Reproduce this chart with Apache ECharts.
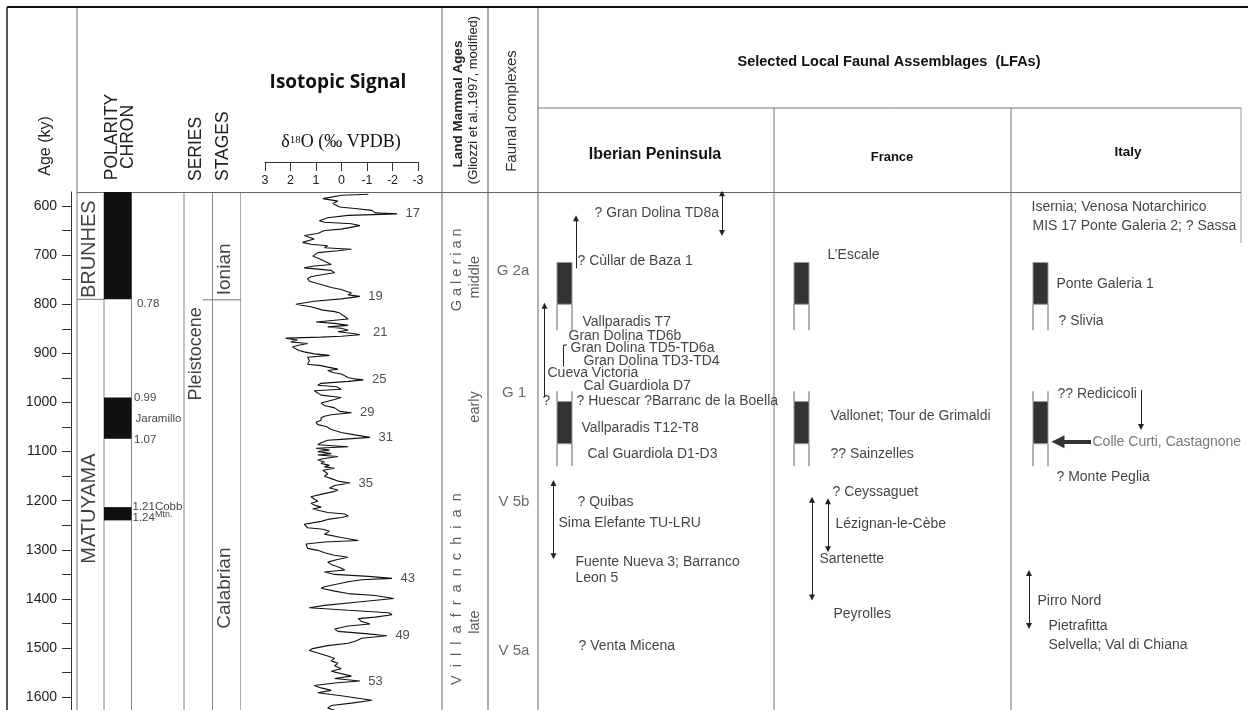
<!DOCTYPE html>
<html><head><meta charset="utf-8">
<script src="https://cdn.jsdelivr.net/npm/echarts@6/dist/echarts.min.js"></script>
<style>html,body{margin:0;padding:0;background:#fff}#c{width:1248px;height:710px}</style>
</head><body><div id="c"></div>
<script>
// ---------- DATA ----------
const AGE_MIN = 571.5, AGE_MAX = 1626;
const ageLabels = [600,700,800,900,1000,1100,1200,1300,1400,1500,1600];
const ageTicks = [600,650,700,750,800,850,900,950,1000,1050,1100,1150,1200,1250,1300,1350,1400,1450,1500,1550,1600];
const isoTicks = [3,2,1,0,-1,-2,-3];

// benthic d18O curve (age ky, permil VPDB)
const isoAge = [
 576,578,585,590,595,602,605,609,614,616,
 619,624,630,633,636,640,647,650,656,660,
 667,674,678,681,685,688,691,695,702,709,
 712,719,722,726,731,736,739,744,748,753,
 757,760,766,770,777,781,784,789,794,800,
 805,812,815,818,822,825,830,836,839,843,
 846,849,853,856,860,862,865,867,869,873,
 877,880,884,887,891,894,897,901,904,908,
 911,915,922,925,928,932,935,939,942,946,
 949,952,954,957,961,965,968,973,976,980,
 985,990,994,1001,1006,1011,1014,1018,1021,1025,
 1028,1031,1036,1040,1045,1049,1055,1061,1066,1071,
 1075,1077,1082,1086,1090,1093,1097,1100,1104,1107,
 1110,1114,1117,1121,1124,1128,1131,1134,1138,1145,
 1150,1155,1160,1164,1169,1174,1178,1181,1186,1192,
 1196,1201,1205,1210,1213,1217,1224,1227,1231,1234,
 1238,1242,1248,1251,1255,1258,1262,1265,1268,1275,
 1281,1284,1288,1292,1297,1301,1306,1311,1315,1320,
 1325,1330,1336,1341,1345,1350,1354,1358,1361,1365,
 1368,1375,1378,1384,1389,1393,1399,1406,1413,1418,
 1423,1428,1432,1437,1440,1446,1451,1455,1461,1466,
 1471,1475,1480,1485,1490,1495,1501,1505,1510,1516,
 1521,1526,1531,1536,1542,1547,1552,1557,1562,1567,
 1571,1576,1581,1586,1591,1597,1601,1606,1612,1617,
 1622,1629];
const isoD18O = [
 -1.05,0.00,0.73,0.14,0.34,0.07,-0.52,-1.19,-1.32,-2.18,
 -0.26,0.54,0.87,0.67,-0.39,-0.72,0.01,0.67,0.93,1.46,
 1.07,1.53,1.20,0.54,0.67,-0.39,0.14,0.93,1.13,0.80,
 0.87,0.40,1.07,1.46,0.40,0.27,0.67,1.20,1.33,1.26,
 1.33,0.80,0.40,0.01,-0.39,-0.26,-0.72,0.01,1.07,1.79,
 1.20,0.73,0.27,0.07,0.01,-0.13,-0.26,1.00,0.27,-0.26,
 0.54,0.01,-0.26,0.14,-0.52,-0.72,0.01,0.80,2.19,1.73,
 1.99,1.33,1.73,1.93,1.86,1.66,1.46,1.07,0.47,1.33,
 1.39,1.26,1.33,0.80,0.54,0.14,0.54,0.34,0.01,0.07,
 -0.26,-0.52,-0.86,-0.26,0.80,0.93,0.20,0.01,1.07,1.13,
 0.80,0.01,0.27,0.80,0.67,0.27,0.34,0.07,-0.39,0.40,
 0.67,0.80,0.80,1.00,0.93,0.60,0.40,0.01,-0.52,-1.12,
 0.01,0.54,0.80,0.93,-0.26,1.00,0.47,0.93,0.40,0.93,
 0.14,0.67,0.93,0.67,0.80,0.47,0.67,0.27,0.73,0.54,
 0.67,0.40,0.14,-0.33,0.27,0.47,0.14,0.27,0.73,1.20,
 1.26,0.93,1.20,1.00,0.80,1.13,0.54,-0.13,-0.26,0.01,
 0.54,0.80,1.46,1.53,1.33,0.73,0.47,0.40,0.67,0.01,
 -0.66,0.67,1.39,1.46,1.33,0.93,0.67,0.27,-0.26,0.20,
 0.54,0.40,0.07,-0.13,0.67,0.27,-1.05,-1.98,-0.79,-0.26,
 -0.26,0.67,0.80,0.27,-0.26,-1.32,-2.05,-0.66,0.67,1.26,
 -0.26,-1.85,-1.98,-1.32,-0.66,-0.79,-1.12,-0.26,0.27,0.14,
 -1.05,-1.78,-0.79,-0.59,-0.26,0.54,1.13,1.26,0.93,0.54,
 0.27,0.40,0.14,0.27,0.01,0.40,0.01,-0.39,0.27,-0.72,
 0.27,1.07,0.80,0.40,0.93,0.01,-0.52,-1.19,-0.39,0.40,
 0.54,0.14];

// marine isotope stages labelled at peaks
const misLabels = ['17','19','21','25','29','31','35','43','49','53'];
const misAge    = [616,784,858,954,1021,1071,1164,1358,1475,1567];
const misPeak   = [-2.18,-0.72,-0.90,-0.86,-0.39,-1.12,-0.33,-1.98,-1.78,-0.72];

// polarity
const normalPolarity = [[0,790],[990,1074],[1213,1240]];
const chronNames = ['BRUNHES','MATUYAMA'];
const chronLabelAge = [688,1216];
const chronBoundary = [790];
const polLabels = ['0.78','0.99','Jaramillo','1.07','1.21Cobb','1.24Mtn.'];
const polLabelAge = [800,990,1033,1076,1213,1234];

// series & stages
const seriesNames = ['Pleistocene'];
const seriesLabelAge = [901];
const stageNames = ['Ionian','Calabrian'];
const stageLabelAge = [729,1378];
const stageBoundary = [791];

// Land mammal ages & faunal complexes
const lmaNames = ['G a l e r i a n','middle','early','V  i  l  l  a  f  r  a  n  c  h  i  a  n','late'];
const lmaLabelAge = [730,745,1009,1380,1447];
const fcNames = ['G 2a','G 1','V 5b','V 5a'];
const fcLabelAge = [733,980,1203,1506];

// Local faunal assemblages
const iberianSites = ['? Gran Dolina TD8a','? Cùllar de Baza 1','Vallparadis T7','Gran Dolina TD6b','Gran Dolina TD5-TD6a','Gran Dolina TD3-TD4','Cueva Victoria','Cal Guardiola D7','?','? Huescar ?Barranc de la Boella','Vallparadis T12-T8','Cal Guardiola D1-D3','? Quibas','Sima Elefante TU-LRU','Fuente Nueva 3; Barranco','Leon 5','? Venta Micena'];
const iberianAges = [615,712,836,864,889,916,941,967,998,998,1052,1105,1202,1245,1326,1357,1496];
const franceSites = ['L’Escale','Vallonet; Tour de Grimaldi','?? Sainzelles','? Ceyssaguet','Lézignan-le-Cèbe','Sartenette','Peyrolles'];
const franceAges = [700,1028,1105,1183,1248,1318,1431];
const italySites = ['Isernia; Venosa Notarchirico','MIS 17 Ponte Galeria 2; ? Sassa','Ponte Galeria 1','? Slivia','?? Redicicoli','Colle Curti, Castagnone','? Monte Peglia','Pirro Nord','Pietrafitta','Selvella; Val di Chiana'];
const italyAges = [603,642,759,835,982,1080,1151,1405,1455,1494];

// age ranges (arrows) [from, to]
const iberianRangesBoth = [[574,655],[1164,1313]];
const iberianRangesUp = [[727,625],[988,803]];
const iberianRangeHook = [883,927];
const franceRangesBoth = [[1198,1397],[1201,1299]];
const italyRangesDown = [[974,1050]];
const italyRangesBoth = [[1347,1455]];
const italyPointerAge = [1080];

// site polarity boxes
const lfaNormal = [[715,800],[998,1084]];
const lfaReversed = [[800,853],[977,998],[1084,1130]];

// ---------- LAYOUT (px) ----------
const SANS = '"Liberation Sans", Arial, Helvetica, sans-serif';
const SERIF = '"Liberation Serif", "Times New Roman", serif';
const gridBoxes = [[71,1],[77,27],[104,27.5],[131.5,52.5],[184,28.5],[212.5,28],[265,153],[265,153],[442,46],[488,50],[538,236],[774,237],[1011,230]];
const iberianIndent = [56,39,44,30,32,45,9,45,4,38,43,49,39,20,37,37,40];
const franceIndent = [53,56,56,58,61,45,59];
const italyIndent = [20,21,45,47,46,81,45,26,37,37];
const polLabelIndent = [5,2,3.5,2,0.5,0.5];

const grids = gridBoxes.map((b,i)=>({left:b[0], width:b[1], top: i===7?150:192, height: i===7?12:518}));
const xAxes = gridBoxes.map((b,i)=>{
  if (i===6) return {gridIndex:i,type:'value',min:-3,max:3,inverse:true,show:false};
  if (i===7) return {gridIndex:i,type:'value',min:-3,max:3,interval:1,inverse:true,position:'bottom',
    axisLine:{show:true,lineStyle:{color:'#333',width:1}},
    axisTick:{show:true,length:9,lineStyle:{color:'#333'}},
    axisLabel:{show:true,fontSize:12.5,color:'#222',margin:12,fontFamily:SANS,formatter:v=>String(v)},
    splitLine:{show:false}};
  return {gridIndex:i,type:'value',min:0,max:b[1],show:false};
});
const yAxes = gridBoxes.map((b,i)=>{
  if (i===7) return {gridIndex:i,type:'value',min:0,max:1,show:false};
  const ax = {gridIndex:i,type:'value',min:AGE_MIN,max:AGE_MAX,inverse:true,show:i===0,splitLine:{show:false}};
  if (i===0) {
    ax.axisLine = {show:true,lineStyle:{color:'#333',width:1}};
    ax.axisTick = {show:true,length:9,customValues:ageTicks,lineStyle:{color:'#333'}};
    ax.axisLabel = {show:true,customValues:ageLabels,fontSize:14,color:'#222',margin:14,fontFamily:SANS,formatter:v=>String(v)};
  }
  return ax;
});

function textSeries(g, names, ages, xs, o) {
  o = o || {};
  return {
    type:'scatter', xAxisIndex:g, yAxisIndex:g, silent:true, symbolSize:1,
    itemStyle:{color:'rgba(0,0,0,0)'}, z:5, animation:false,
    data: names.map((n,i)=>{
      const d = {name:n, value:[xs[i], ages[i]]};
      if (o.itemLabel && o.itemLabel[i]) d.label = o.itemLabel[i];
      return d;
    }),
    label:{show:true, formatter:'{b}', position:o.position||'right', distance:0,
      fontSize:o.fontSize||14, fontFamily:o.fontFamily||SANS, color:o.color||'#111',
      rotate:o.rotate||0, fontWeight:o.fontWeight||'normal'}
  };
}
function rectSeries(g, x0, x1, data, style, clip) {
  return {type:'custom', xAxisIndex:g, yAxisIndex:g, silent:true, clip:!!clip, data, z:3,
    renderItem:(p, api)=>{
      const a = api.coord([x0, api.value(0)]), b = api.coord([x1, api.value(1)]);
      return {type:'rect', shape:{x:a[0], y:a[1], width:b[0]-a[0], height:b[1]-a[1]}, style};
    }};
}
function openBoxSeries(g, x0, x1, data) {
  return {type:'custom', xAxisIndex:g, yAxisIndex:g, silent:true, data, z:3,
    renderItem:(p, api)=>{
      const a = api.coord([x0, api.value(0)]), b = api.coord([x1, api.value(1)]);
      const st = {stroke:'#999', lineWidth:1.5};
      return {type:'group', children:[
        {type:'line', shape:{x1:a[0],y1:a[1],x2:a[0],y2:b[1]}, style:st},
        {type:'line', shape:{x1:b[0],y1:a[1],x2:b[0],y2:b[1]}, style:st}]};
    }};
}
function hLineSeries(g, x0, x1, ages, color) {
  return {type:'custom', xAxisIndex:g, yAxisIndex:g, silent:true, data:ages.map(a=>[a]), z:3,
    renderItem:(p, api)=>{
      const a = api.coord([x0, api.value(0)]), b = api.coord([x1, api.value(0)]);
      return {type:'line', shape:{x1:a[0],y1:a[1],x2:b[0],y2:b[1]}, style:{stroke:color||'#777', lineWidth:1}};
    }};
}
function arrowSeries(g, xs, ranges, both, extra) {
  return Object.assign({type:'lines', coordinateSystem:'cartesian2d', xAxisIndex:g, yAxisIndex:g, silent:true,
    symbol: both ? ['triangle','triangle'] : ['none','triangle'], symbolSize: 6,
    lineStyle:{color:'#222', width:1, opacity:1}, z:4,
    data: ranges.map((r,i)=>({coords:[[xs[i], r[0]],[xs[i], r[1]]]}))}, extra||{});
}

const series = [];
// polarity
series.push(rectSeries(2, 0, 27.5, normalPolarity, {fill:'#111'}, true));
series.push(hLineSeries(1, 0, 27, chronBoundary, '#777'));
series.push(textSeries(1, chronNames, chronLabelAge, [12.5,12.5], {position:'inside', rotate:90, fontSize:20}));
series.push(textSeries(3, polLabels, polLabelAge, polLabelIndent, {fontSize:11.5,
  itemLabel:{5:{formatter:'1.24{s|Mtn.}', rich:{s:{fontSize:9, fontFamily:SANS, color:'#111', padding:[0,0,6,0]}}}}}));
// series & stages
series.push(textSeries(4, seriesNames, seriesLabelAge, [12], {position:'inside', rotate:90, fontSize:18}));
series.push(textSeries(5, stageNames, stageLabelAge, [12,12], {position:'inside', rotate:90, fontSize:19}));
series.push(hLineSeries(5, -9.5, 28.5, stageBoundary, '#777'));
// isotope curve
series.push({type:'line', xAxisIndex:6, yAxisIndex:6, silent:true, showSymbol:false, symbol:'none', clip:true,
  animation:false, lineStyle:{color:'#111', width:1.1}, z:4,
  data: isoAge.map((a,i)=>[isoD18O[i], a])});
series.push({type:'scatter', xAxisIndex:6, yAxisIndex:6, silent:true, symbolSize:1, itemStyle:{color:'rgba(0,0,0,0)'},
  data: misLabels.map((m,i)=>({name:m, value:[misPeak[i], misAge[i]]})),
  label:{show:true, formatter:'{b}', position:'right', distance:8, fontSize:13, color:'#222', fontFamily:SANS}});
// LMA & faunal complexes
series.push(textSeries(8, lmaNames, lmaLabelAge, [14.5,33,33,14.5,33], {position:'inside', rotate:90, fontSize:14.5, color:'#333'}));
series.push(textSeries(9, fcNames, fcLabelAge, [25,26,26,26], {position:'inside', fontSize:15, color:'#444'}));
// LFAs text
series.push(textSeries(10, iberianSites, iberianAges, iberianIndent));
series.push(textSeries(11, franceSites, franceAges, franceIndent));
series.push(textSeries(12, italySites, italyAges, italyIndent, {itemLabel:{5:{color:'#555'}}}));
// LFA polarity boxes
[[10,19,34],[11,20,35],[12,22,37]].forEach(([g,x0,x1])=>{
  series.push(openBoxSeries(g, x0, x1, lfaReversed));
  series.push(rectSeries(g, x0, x1, lfaNormal, {fill:'#333', stroke:'#999', lineWidth:1}));
});
// arrows
series.push(arrowSeries(10, [184,15.5], iberianRangesBoth, true));
series.push(arrowSeries(10, [38,6.5], iberianRangesUp, false));
series.push({type:'lines', coordinateSystem:'cartesian2d', xAxisIndex:10, yAxisIndex:10, silent:true, polyline:true,
  symbol:['none','triangle'], symbolSize:6, lineStyle:{color:'#222', width:1, opacity:1}, z:4,
  data:[{coords:[[29,iberianRangeHook[0]],[25.5,iberianRangeHook[0]],[25.5,iberianRangeHook[1]]]}]});
series.push(arrowSeries(11, [38,54], franceRangesBoth, true));
series.push(arrowSeries(12, [130], italyRangesDown, false));
series.push(arrowSeries(12, [18], italyRangesBoth, true));
series.push({type:'lines', coordinateSystem:'cartesian2d', xAxisIndex:12, yAxisIndex:12, silent:true,
  symbol:['none','triangle'], symbolSize:13, lineStyle:{color:'#333', width:4, opacity:1}, z:4,
  data: italyPointerAge.map(a=>({coords:[[80,a],[47,a]]}))});

// ---------- TABLE FRAME & HEADERS ----------
const vLines = [[7,7,710,'#222',1.5],[77,7,710,'#777',1],[104,192,710,'#888',1],[131.5,192,710,'#888',1],
  [184,192,710,'#888',1],[212.5,192,710,'#888',1],[240.5,192,710,'#aaa',1],[442,7,710,'#666',1],
  [488,7,710,'#555',1],[538,7,710,'#666',1],[774,108,710,'#777',1],[1011,108,710,'#777',1],[1241,108,243,'#999',1]];
const hLines = [[7,1248,7,'#111',2],[77,1241,192.5,'#666',1],[538,1241,108,'#777',1]];
const graphic = [];
vLines.forEach(([x,y1,y2,c,w])=>graphic.push({type:'line', silent:true, shape:{x1:x,y1,x2:x,y2}, style:{stroke:c,lineWidth:w}}));
hLines.forEach(([x1,x2,y,c,w])=>graphic.push({type:'line', silent:true, shape:{x1,y1:y,x2,y2:y}, style:{stroke:c,lineWidth:w}}));
function gtext(text, x, y, size, o) {
  o = o || {};
  const al = o.align || 'center';
  return {type:'text', x, y, rotation:o.rot?Math.PI/2:0, silent:true, z:10,
    style:{text, fontSize:size, fontFamily:o.family||SANS, fontWeight:o.weight||'normal', fill:o.color||'#111',
      align:al, verticalAlign:'middle', textAlign:al, textVerticalAlign:'middle', rich:o.rich}};
}
graphic.push(gtext('Age (ky)', 46, 146, 16, {rot:true, color:'#222'}));
graphic.push(gtext('POLARITY', 112, 137, 17.5, {rot:true, color:'#222'}));
graphic.push(gtext('CHRON', 128.5, 137, 17.5, {rot:true, color:'#222'}));
graphic.push(gtext('SERIES', 196, 181, 17.5, {rot:true, align:'left', color:'#222'}));
graphic.push(gtext('STAGES', 223, 181, 17.5, {rot:true, align:'left', color:'#222'}));
graphic.push(gtext('Isotopic Signal', 338, 83, 19, {weight:'bold', family:'"Open Sans", "Liberation Sans", sans-serif'}));
graphic.push(gtext('{a|δ}{b|18}{a|O (‰ VPDB)}', 341, 142, 18, {family:SERIF,
  rich:{a:{fontSize:18, fontFamily:SERIF, fill:'#111'}, b:{fontSize:11, fontFamily:SERIF, fill:'#111', padding:[0,0,3,0]}}}));
graphic.push(gtext('Land Mammal Ages', 458, 104, 13.5, {rot:true, weight:'bold', color:'#222'}));
graphic.push(gtext('(Gliozzi et al.,1997, modified)', 473.5, 100, 13, {rot:true, color:'#222'}));
graphic.push(gtext('Faunal complexes', 511.5, 111, 15, {rot:true, color:'#333'}));
graphic.push(gtext('Selected Local Faunal Assemblages  (LFAs)', 889, 62, 14.5, {weight:'bold'}));
graphic.push(gtext('Iberian Peninsula', 655, 155, 16, {weight:'bold'}));
graphic.push(gtext('France', 892, 157, 13, {weight:'bold'}));
graphic.push(gtext('Italy', 1128, 152, 13.5, {weight:'bold'}));

const chart = echarts.init(document.getElementById('c'), null, {renderer:'canvas'});
chart.setOption({animation:false, backgroundColor:'#fff', grid:grids, xAxis:xAxes, yAxis:yAxes, series, graphic});
</script></body></html>
